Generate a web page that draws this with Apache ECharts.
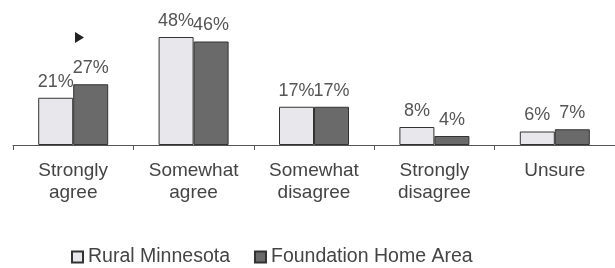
<!DOCTYPE html>
<html>
<head>
<meta charset="utf-8">
<script src="https://cdn.jsdelivr.net/npm/echarts@6/dist/echarts.min.js"></script>
<style>
  html, body { margin: 0; padding: 0; background: #fff; }
  #chart { width: 615px; height: 268px; }
</style>
</head>
<body>
<div id="chart"></div>
<script>
// survey answers
var categories = ['Strongly\nagree', 'Somewhat\nagree', 'Somewhat\ndisagree', 'Strongly\ndisagree', 'Unsure'];
var ruralMinnesota = [21, 48, 17, 8, 6];
var foundationHomeArea = [27, 46, 17, 4, 7];

var chart = echarts.init(document.getElementById('chart'));
var font = 'Liberation Sans, Arial, sans-serif';

chart.setOption({
    animation: false,
    grid: { left: 13, top: 10, width: 610, height: 135 },
    legend: {
        top: 242,
        left: 66,
        icon: 'rect',
        itemWidth: 11,
        itemHeight: 11,
        itemGap: 24,
        textStyle: { fontFamily: font, fontSize: 19.5, color: '#444' },
        data: ['Rural Minnesota', 'Foundation Home Area']
    },
    xAxis: {
        type: 'category',
        data: categories,
        axisLine: { lineStyle: { color: '#555', width: 1 } },
        axisTick: { show: true, length: 5, lineStyle: { color: '#555' } },
        axisLabel: {
            fontFamily: font, fontSize: 19, color: '#444',
            lineHeight: 22, margin: 15, interval: 0
        }
    },
    yAxis: {
        type: 'value',
        min: 0,
        max: 60,
        show: false
    },
    series: [{
        name: 'Rural Minnesota',
        type: 'bar',
        data: ruralMinnesota,
        barWidth: 35,
        barGap: '0%',
        itemStyle: { color: '#e8e8ec', borderColor: '#333', borderWidth: 1 },
        label: {
            show: true, position: 'top', distance: 7, formatter: '{c}%',
            fontFamily: font, fontSize: 18, color: '#555'
        }
    }, {
        name: 'Foundation Home Area',
        type: 'bar',
        data: foundationHomeArea,
        barWidth: 35,
        itemStyle: { color: '#6a6a6a', borderColor: '#333', borderWidth: 1 },
        label: {
            show: true, position: 'top', distance: 7, formatter: '{c}%',
            fontFamily: font, fontSize: 18, color: '#555'
        }
    }],
    graphic: [{
        type: 'polygon',
        shape: { points: [[75, 32], [75, 43], [84, 37.5]] },
        style: { fill: '#222' }
    }]
});
</script>
</body>
</html>
